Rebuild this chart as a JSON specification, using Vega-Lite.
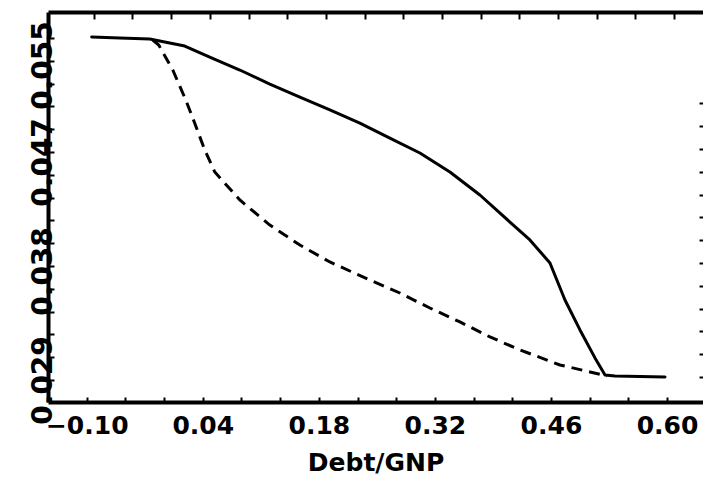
{
  "$schema": "https://vega.github.io/schema/vega-lite/v6.json",
  "width": 655,
  "height": 390,
  "autosize": "none",
  "padding": {"left": 48, "top": 12, "right": 0, "bottom": 85},
  "background": "white",
  "config": {"view": {"stroke": null}, "font": "DejaVu Sans"},
  "data": {
    "values": [
      {"series": "solid", "debt": -0.0940, "rate": 0.05731},
      {"series": "solid", "debt": -0.0602, "rate": 0.05723},
      {"series": "solid", "debt": -0.0240, "rate": 0.05715},
      {"series": "solid", "debt": -0.0119, "rate": 0.05698},
      {"series": "solid", "debt": 0.0183, "rate": 0.05657},
      {"series": "solid", "debt": 0.0484, "rate": 0.05566},
      {"series": "solid", "debt": 0.0847, "rate": 0.05459},
      {"series": "solid", "debt": 0.1209, "rate": 0.05343},
      {"series": "solid", "debt": 0.1571, "rate": 0.05236},
      {"series": "solid", "debt": 0.1933, "rate": 0.05129},
      {"series": "solid", "debt": 0.2295, "rate": 0.05021},
      {"series": "solid", "debt": 0.2657, "rate": 0.04897},
      {"series": "solid", "debt": 0.3019, "rate": 0.04774},
      {"series": "solid", "debt": 0.3381, "rate": 0.04617},
      {"series": "solid", "debt": 0.3743, "rate": 0.04427},
      {"series": "solid", "debt": 0.4105, "rate": 0.04204},
      {"series": "solid", "debt": 0.4346, "rate": 0.04056},
      {"series": "solid", "debt": 0.4588, "rate": 0.03866},
      {"series": "solid", "debt": 0.4769, "rate": 0.03560},
      {"series": "solid", "debt": 0.4950, "rate": 0.03313},
      {"series": "solid", "debt": 0.5131, "rate": 0.03082},
      {"series": "solid", "debt": 0.5252, "rate": 0.02941},
      {"series": "solid", "debt": 0.5372, "rate": 0.02933},
      {"series": "solid", "debt": 0.5976, "rate": 0.02925},
      {"series": "dashed", "debt": -0.0203, "rate": 0.05706},
      {"series": "dashed", "debt": -0.0131, "rate": 0.05665},
      {"series": "dashed", "debt": 0.0038, "rate": 0.05459},
      {"series": "dashed", "debt": 0.0195, "rate": 0.05211},
      {"series": "dashed", "debt": 0.0279, "rate": 0.05063},
      {"series": "dashed", "debt": 0.0424, "rate": 0.04799},
      {"series": "dashed", "debt": 0.0545, "rate": 0.04617},
      {"series": "dashed", "debt": 0.0847, "rate": 0.04386},
      {"series": "dashed", "debt": 0.1209, "rate": 0.04179},
      {"series": "dashed", "debt": 0.1571, "rate": 0.04014},
      {"series": "dashed", "debt": 0.1933, "rate": 0.03874},
      {"series": "dashed", "debt": 0.2415, "rate": 0.03725},
      {"series": "dashed", "debt": 0.2777, "rate": 0.03618},
      {"series": "dashed", "debt": 0.3140, "rate": 0.03494},
      {"series": "dashed", "debt": 0.3502, "rate": 0.03379},
      {"series": "dashed", "debt": 0.3864, "rate": 0.03255},
      {"series": "dashed", "debt": 0.4226, "rate": 0.03148},
      {"series": "dashed", "debt": 0.4708, "rate": 0.03024},
      {"series": "dashed", "debt": 0.5071, "rate": 0.02966},
      {"series": "dashed", "debt": 0.5276, "rate": 0.02933}
    ]
  },
  "layer": [
    {
      "transform": [{"filter": "datum.series == 'solid'"}],
      "mark": {"type": "line", "color": "black", "strokeWidth": 3, "strokeCap": "round", "strokeJoin": "round"},
      "encoding": {
        "x": {
          "field": "debt", "type": "quantitative",
          "scale": {"domain": [-0.1467, 0.6434], "nice": false, "zero": false},
          "axis": {
            "orient": "bottom", "title": "Debt/GNP",
            "values": [-0.1, -0.053333, -0.006667, 0.04, 0.086667, 0.133333, 0.18, 0.226667, 0.273333, 0.32, 0.366667, 0.413333, 0.46, 0.506667, 0.553333, 0.6],
            "labelExpr": "(round(datum.value*100)+140) % 14 == 4 ? format(datum.value, '.2f') : ''",
            "grid": false, "domainColor": "black", "domainWidth": 4,
            "tickColor": "black", "tickWidth": 2, "tickSize": -5,
            "labelFont": "DejaVu Sans", "labelFontSize": 25, "labelFontWeight": "bold", "labelColor": "black",
            "labelPadding": 16, "labelOverlap": false, "labelFlush": false,
            "titleFont": "DejaVu Sans", "titleFontSize": 25, "titleFontWeight": "bold", "titleColor": "black", "titlePadding": 12
          }
        },
        "y": {
          "field": "rate", "type": "quantitative",
          "scale": {"domain": [0.02718, 0.05938], "nice": false, "zero": false},
          "axis": {
            "orient": "left", "title": null,
            "values": [0.029, 0.030882, 0.032764, 0.034646, 0.036528, 0.03841, 0.040292, 0.042174, 0.044056, 0.045938, 0.04782, 0.049702, 0.051584, 0.053466, 0.055348, 0.05723, 0.038, 0.047, 0.055],
            "labelExpr": "datum.value == 0.029 || datum.value == 0.038 || datum.value == 0.047 || datum.value == 0.055 ? format(datum.value, '.3f') : ''",
            "tickOpacity": {"condition": {"test": "datum.value == 0.038 || datum.value == 0.047 || datum.value == 0.055", "value": 0}, "value": 1},
            "grid": false, "domainColor": "black", "domainWidth": 4,
            "tickColor": "black", "tickWidth": 2, "tickSize": -6,
            "labelFont": "DejaVu Sans", "labelFontSize": 28, "labelFontWeight": "bold", "labelColor": "black",
            "labelAngle": 270, "labelAlign": "center", "labelBaseline": "alphabetic",
            "labelPadding": 3, "labelOverlap": false, "labelFlush": false
          }
        }
      }
    },
    {
      "transform": [{"filter": "datum.series == 'dashed'"}],
      "mark": {"type": "line", "color": "black", "strokeWidth": 3, "strokeDash": [11, 7]},
      "encoding": {
        "x": {
          "field": "debt", "type": "quantitative",
          "scale": {"domain": [-0.1467, 0.6434], "nice": false, "zero": false},
          "axis": {
            "orient": "top", "title": null, "labels": false,
            "values": [-0.0915, -0.044833, 0.001833, 0.0485, 0.095167, 0.141833, 0.1885, 0.235167, 0.281833, 0.3285, 0.375167, 0.421833, 0.4685, 0.515167, 0.561833, 0.6085],
            "grid": false, "domainColor": "black", "domainWidth": 4,
            "tickColor": "black", "tickWidth": 2, "tickSize": -7
          }
        },
        "y": {
          "field": "rate", "type": "quantitative",
          "scale": {"domain": [0.02718, 0.05938], "nice": false, "zero": false},
          "axis": {
            "orient": "right", "title": null, "labels": false, "domain": false,
            "values": [0.02925, 0.031132, 0.033014, 0.034896, 0.036778, 0.03866, 0.040542, 0.042424, 0.044306, 0.046188, 0.04807, 0.049952, 0.051834],
            "grid": false, "tickColor": "black", "tickWidth": 2, "tickSize": -4
          }
        }
      }
    }
  ],
  "resolve": {"axis": {"x": "independent", "y": "independent"}}
}
